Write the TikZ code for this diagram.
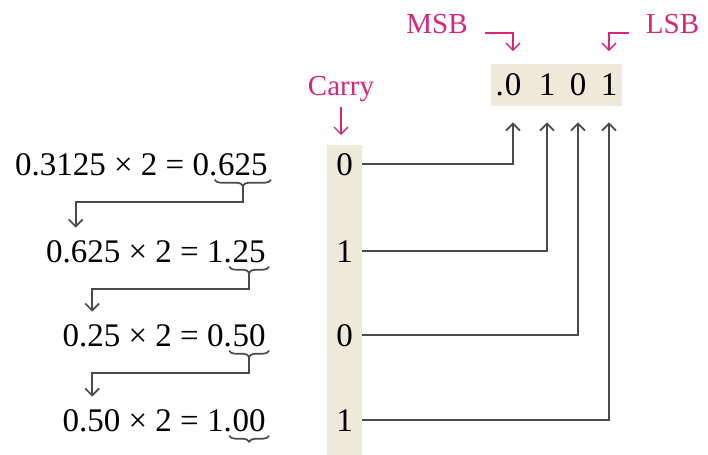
\documentclass[tikz,border=0pt]{standalone}
\usepackage{fontspec}
\setmainfont{Liberation Serif}
\usepackage{tikz}
\usetikzlibrary{arrows.meta, positioning, calc, fit, backgrounds, decorations.pathreplacing}
\definecolor{pinkish}{HTML}{D8267A}
\definecolor{sand}{HTML}{EEE9D8}
\definecolor{wirec}{HTML}{4A4A4A}

\begin{document}
\begin{tikzpicture}[
    x=0.5pt, y=-0.5pt,
    font=\fontsize{16.5}{19}\selectfont,
    eq/.style={inner sep=0pt, anchor=base east},
    bit/.style={inner sep=0pt, anchor=base},
    lbl/.style={text=pinkish, inner sep=0pt, anchor=base, font=\fontsize{14.5}{17}\selectfont},
    wire/.style={draw=wirec, line width=0.85pt},
    tip/.style={-{Straight Barb[length=3.5pt, width=7pt]}},
    pinkarrow/.style={draw=pinkish, line width=0.7pt, -{Straight Barb[length=3.5pt, width=7pt]}},
    ubrace/.style={wire, decorate, decoration={brace, mirror, amplitude=3pt, raise=2pt}}
  ]
  \useasboundingbox (0,0) rectangle (708,455);

  % carry column
  \fill[sand] (327,145) rectangle (362,455);
  \coordinate (coltop) at (344.5,145);

  % the four multiplications
  \node[eq] (f1) at (268,175) {625};
  \node[eq] (e1) at (f1.base west) {0.3125 × 2 = 0.};
  \node[eq] (f2) at (266,262) {25};
  \node[eq] (e2) at (f2.base west) {0.625 × 2 = 1.};
  \node[eq] (f3) at (266,346) {50};
  \node[eq] (e3) at (f3.base west) {0.25 × 2 = 0.};
  \node[eq] (f4) at (266,431) {00};
  \node[eq] (e4) at (f4.base west) {0.50 × 2 = 1.};

  \foreach \i in {1,...,4} {
    \draw[ubrace] ([xshift=-1.5pt]f\i.south west) -- ([xshift=1.5pt]f\i.south east);
    \coordinate (t\i) at ([yshift=-5pt]f\i.south);
  }
  \foreach \i/\j in {1/2, 2/3, 3/4}
    \draw[wire, tip] (t\i) -- ++(0,16) -| ([xshift=15pt, yshift=6pt]e\j.north west);

  % carries
  \node[bit, minimum width=17.5pt] (c1) at (344.5,175) {0};
  \node[bit, minimum width=17.5pt] (c2) at (344.5,262) {1};
  \node[bit, minimum width=17.5pt] (c3) at (344.5,346) {0};
  \node[bit, minimum width=17.5pt] (c4) at (344.5,431) {1};

  % result
  \node[bit] (r1) at (513,96) {0};
  \node[bit] (r2) at (547,96) {1};
  \node[bit] (r3) at (578,96) {0};
  \node[bit] (r4) at (609,96) {1};
  \node[bit, anchor=base east] (r0) at (r1.base west) {.};
  \begin{scope}[on background layer]
    \node[fit=(r0)(r1)(r2)(r3)(r4), fill=sand, inner xsep=2pt, inner ysep=4.6pt] (rbox) {};
  \end{scope}
  \coordinate (up) at ([yshift=-8pt]rbox.south);
  \coordinate (down) at ([yshift=6.5pt]rbox.north);

  \foreach \i in {1,...,4}
    \draw[wire, tip] (c\i.east) -| (r\i |- up);

  % labels
  \node[lbl] (carry) at (341,95) {Carry};
  \node[lbl] (msb) at (437,33) {MSB};
  \node[lbl] (lsb) at (672.5,33) {LSB};
  \draw[pinkarrow] ([yshift=-6pt]carry.base) -- ([yshift=5pt]carry.base |- coltop);
  \draw[pinkarrow] ([xshift=8.5pt]msb.base east) -| (r1 |- down);
  \draw[pinkarrow] ([xshift=-8.5pt]lsb.base west) -| (r4 |- down);
\end{tikzpicture}
\end{document}
